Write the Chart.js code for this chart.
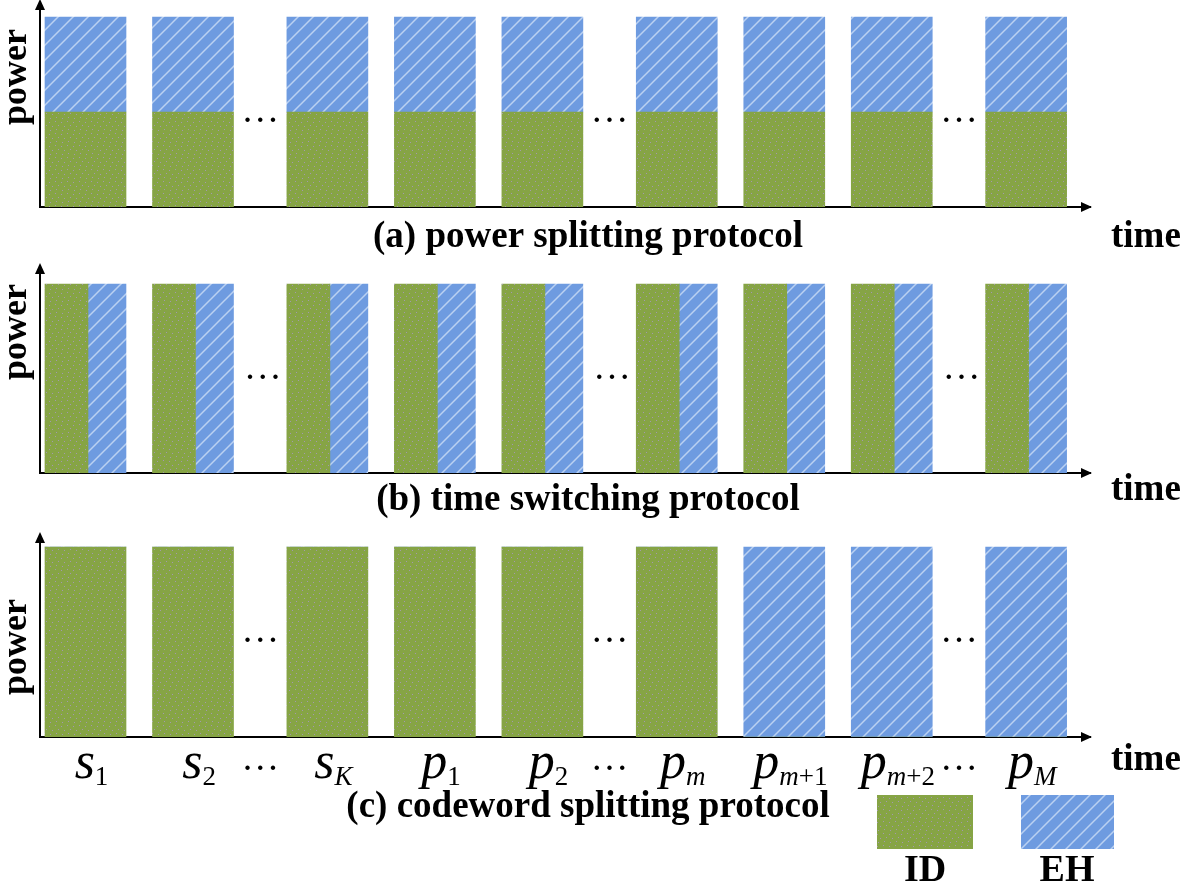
<!DOCTYPE html>
<html lang="en">
<head>
<meta charset="UTF-8">
<title>ID / EH protocols</title>
<style>
    body {
        margin: 0;
        background: #ffffff;
        width: 1181px;
        height: 882px;
        position: relative;
        overflow: hidden;
    }
    canvas {
        position: absolute;
        left: 0;
    }
</style>
</head>
<body>
<canvas id="panelA" width="1181" height="255" style="top:0px"></canvas>
<canvas id="panelB" width="1181" height="265" style="top:255px"></canvas>
<canvas id="panelC" width="1181" height="362" style="top:520px"></canvas>

<script src="https://cdn.jsdelivr.net/npm/chart.js"></script>
<script>
    // time slot positions (s1, s2, sK, p1, p2, pm, pm+1, pm+2, pM)
    const slots = [0, 1, 2.25, 3.25, 4.25, 5.5, 6.5, 7.5, 8.75];
    // where the "..." sit between groups
    const gaps = [1.625, 4.875, 8.125];

    const seriesNames = ['ID', 'EH'];

    // (a) power splitting: each slot split in power
    const idA = [0.5, 0.5, 0.5, 0.5, 0.5, 0.5, 0.5, 0.5, 0.5];
    const ehA = [0.5, 0.5, 0.5, 0.5, 0.5, 0.5, 0.5, 0.5, 0.5];
    // (b) time switching: each slot split in time
    const idB = [1, 1, 1, 1, 1, 1, 1, 1, 1];
    const ehB = [1, 1, 1, 1, 1, 1, 1, 1, 1];
    // (c) codeword splitting: whole codewords go to ID or EH
    const idC = [1, 1, 1, 1, 1, 1, 0, 0, 0];
    const ehC = [0, 0, 0, 0, 0, 0, 1, 1, 1];

    const slotMain = ['s', 's', 's', 'p', 'p', 'p', 'p', 'p', 'p'];
    const slotSub = ['1', '2', 'K', '1', '2', 'm', 'm+1', 'm+2', 'M'];

    const titles = [
        '(a) power splitting protocol',
        '(b) time switching protocol',
        '(c) codeword splitting protocol'
    ];
    const yTitle = 'power';
    const xTitle = 'time';

    const SERIF = "'Liberation Serif', 'Times New Roman', serif";

    // fill patterns
    function makeHatch() {
        const c = document.createElement('canvas');
        c.width = 15; c.height = 15;
        const g = c.getContext('2d');
        g.fillStyle = '#6e9be0';
        g.fillRect(0, 0, 15, 15);
        g.strokeStyle = 'rgba(205, 222, 245, 0.8)';
        g.lineWidth = 1.5;
        g.beginPath();
        g.moveTo(0, 15); g.lineTo(15, 0);
        g.moveTo(-2, 2); g.lineTo(2, -2);
        g.moveTo(13, 17); g.lineTo(17, 13);
        g.stroke();
        return g.createPattern(c, 'repeat');
    }

    function makeDots() {
        const c = document.createElement('canvas');
        c.width = 12; c.height = 12;
        const g = c.getContext('2d');
        g.fillStyle = '#86a445';
        g.fillRect(0, 0, 12, 12);
        g.fillStyle = 'rgba(170, 150, 200, 0.8)';
        [[1, 2], [7, 1], [4, 6], [10, 5], [2, 10], [8, 9]].forEach(p => g.fillRect(p[0], p[1], 1, 1));
        return g.createPattern(c, 'repeat');
    }

    const greenFill = makeDots();
    const blueFill = makeHatch();

    const xMin = -0.4233;
    const xMax = 9.344;

    function pts(vals) {
        return slots.map((s, i) => ({ x: s, y: vals[i] }));
    }

    // arrows, texts, ellipses, slot labels, legend
    const decor = {
        id: 'decor',
        afterDraw(chart, args, opts) {
            const ctx = chart.ctx;
            const { left, right, top, bottom } = chart.chartArea;
            const xs = chart.scales.x;
            const ys = chart.scales.y;
            ctx.save();
            ctx.fillStyle = '#000';

            // arrow heads
            ctx.beginPath();
            ctx.moveTo(left, top - 3);
            ctx.lineTo(left - 5, top + 8);
            ctx.lineTo(left + 5, top + 8);
            ctx.closePath();
            ctx.fill();
            ctx.beginPath();
            ctx.moveTo(right + 2, bottom);
            ctx.lineTo(right - 9, bottom - 5);
            ctx.lineTo(right - 9, bottom + 5);
            ctx.closePath();
            ctx.fill();

            // ellipses inside the plot
            ctx.font = '38px ' + SERIF;
            ctx.textAlign = 'center';
            ctx.textBaseline = 'alphabetic';
            gaps.forEach(g => {
                ctx.fillText('\u2026', xs.getPixelForValue(g), ys.getPixelForValue(opts.dotsAt) + 2);
            });

            // panel title
            ctx.font = 'bold 37px ' + SERIF;
            ctx.textBaseline = 'middle';
            ctx.fillText(opts.title, 588, opts.titleY);

            // time
            ctx.textAlign = 'left';
            ctx.fillText(xTitle, 1111, opts.timeY);

            // power
            ctx.save();
            ctx.translate(17, opts.powerY);
            ctx.rotate(-Math.PI / 2);
            ctx.textAlign = 'center';
            ctx.font = 'bold 36px ' + SERIF;
            ctx.fillText(yTitle, 0, 0);
            ctx.restore();

            if (opts.slotLabels) {
                const base = bottom + 41;
                const mainFont = 'italic 52px ' + SERIF;
                ctx.textBaseline = 'alphabetic';
                ctx.textAlign = 'left';
                slots.forEach((s, i) => {
                    ctx.font = mainFont;
                    const mw = ctx.measureText(slotMain[i]).width;
                    const parts = slotSub[i].split('').map(ch => ({
                        ch,
                        font: (/[a-zA-Z]/.test(ch) ? 'italic ' : '') + '27px ' + SERIF
                    }));
                    let sw = 0;
                    parts.forEach(p => { ctx.font = p.font; p.w = ctx.measureText(p.ch).width; sw += p.w; });
                    let x = xs.getPixelForValue(s) - (mw + sw) / 2 + 6;
                    ctx.font = mainFont;
                    ctx.fillText(slotMain[i], x, base);
                    x += mw;
                    parts.forEach(p => { ctx.font = p.font; ctx.fillText(p.ch, x, base + 7); x += p.w; });
                });
                ctx.textAlign = 'center';
                ctx.font = '38px ' + SERIF;
                gaps.forEach(g => ctx.fillText('\u2026', xs.getPixelForValue(g), bottom + 33));
            }

            if (opts.legend) {
                const boxes = [
                    { x: 877, w: 96, cx: 925 },
                    { x: 1021, w: 93, cx: 1067 }
                ];
                chart.data.datasets.forEach((ds, i) => {
                    const b = boxes[i];
                    ctx.fillStyle = ds.backgroundColor;
                    ctx.fillRect(b.x, 275, b.w, 54);
                    ctx.fillStyle = '#000';
                    ctx.font = 'bold 38px ' + SERIF;
                    ctx.textAlign = 'center';
                    ctx.textBaseline = 'alphabetic';
                    ctx.fillText(ds.label, b.cx, 361);
                });
            }
            ctx.restore();
        }
    };

    function axis(extra) {
        return Object.assign({
            type: 'linear',
            offset: false,
            grid: { display: false, drawTicks: false },
            ticks: { display: false },
            border: { display: true, color: '#000', width: 2 },
            z: 1
        }, extra);
    }

    function makePanel(id, datasets, cfg) {
        return new Chart(document.getElementById(id), {
            type: 'bar',
            data: { datasets },
            options: {
                responsive: false,
                animation: false,
                layout: { padding: cfg.padding },
                scales: {
                    x: axis({ min: xMin + cfg.shift, max: xMax + cfg.shift, stacked: cfg.stacked }),
                    y: axis({ min: 0, max: cfg.yMax, stacked: cfg.stacked })
                },
                plugins: {
                    legend: { display: false },
                    tooltip: { enabled: false },
                    decor: cfg.decor
                }
            },
            plugins: [decor]
        });
    }

    // (a)
    makePanel('panelA', [
        { label: seriesNames[0], data: pts(idA), backgroundColor: greenFill, barThickness: 81 },
        { label: seriesNames[1], data: pts(ehA), backgroundColor: blueFill, barThickness: 81 }
    ], {
        padding: { top: 2, bottom: 48, left: 40, right: 91 },
        yMax: 1.079, stacked: true, shift: 0,
        decor: { title: titles[0], titleY: 237, timeY: 237, powerY: 77, dotsAt: 0.46 }
    });

    // (b)
    makePanel('panelB', [
        { label: seriesNames[0], data: pts(idB), backgroundColor: greenFill, barThickness: 43 },
        { label: seriesNames[1], data: pts(ehB), backgroundColor: blueFill, barThickness: 38 }
    ], {
        padding: { top: 11, bottom: 47, left: 40, right: 91 },
        yMax: 1.095, stacked: false, shift: -0.023,
        decor: { title: titles[1], titleY: 245, timeY: 235, powerY: 77, dotsAt: 0.51 }
    });

    // (c)
    makePanel('panelC', [
        { label: seriesNames[0], data: pts(idC), backgroundColor: greenFill, barThickness: 81 },
        { label: seriesNames[1], data: pts(ehC), backgroundColor: blueFill, barThickness: 81 }
    ], {
        padding: { top: 15, bottom: 145, left: 40, right: 91 },
        yMax: 1.063, stacked: true, shift: 0,
        decor: { title: titles[2], titleY: 287, timeY: 240, powerY: 127, dotsAt: 0.51, slotLabels: true, legend: true }
    });
</script>
</body>
</html>
